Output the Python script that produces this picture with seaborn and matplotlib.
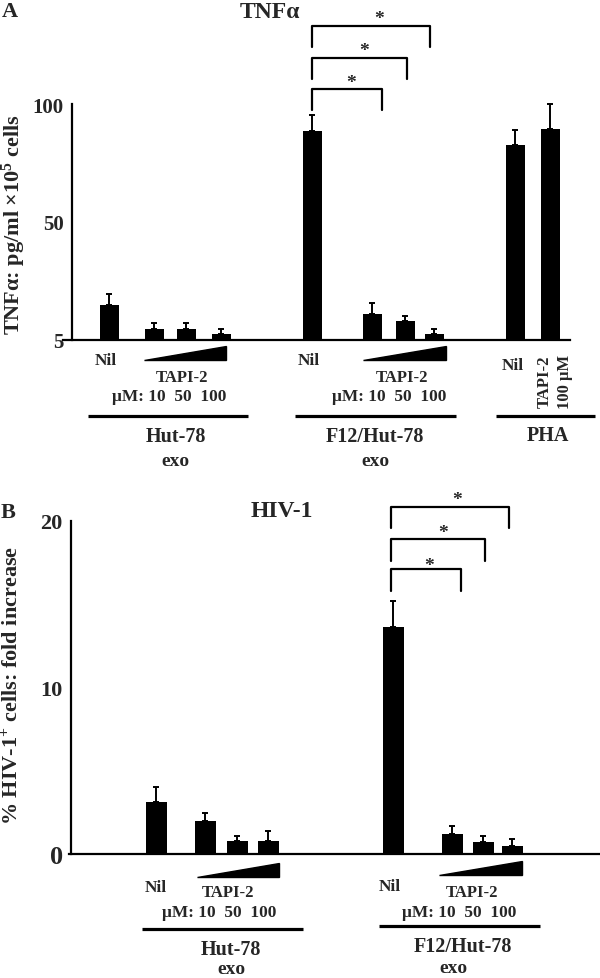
import matplotlib
matplotlib.use('Agg')
import numpy as np
import matplotlib.pyplot as plt
import seaborn as sns

sns.set_style('white')
plt.rcParams['font.family'] = ['Liberation Serif', 'DejaVu Serif']
plt.rcParams['font.weight'] = 'bold'
plt.rcParams['axes.labelweight'] = 'bold'
plt.rcParams['mathtext.fontset'] = 'custom'
plt.rcParams['mathtext.rm'] = 'Liberation Serif:bold'
plt.rcParams['mathtext.bf'] = 'Liberation Serif:bold'

# ---- data ----
# panel A: TNFa pg/ml x10^5 cells
tnf_hut = [14.8, 4.7, 4.7, 2.7]
tnf_hut_err = [4.8, 2.4, 2.4, 1.8]
tnf_f12 = [88.7, 11.0, 8.0, 2.7]
tnf_f12_err = [6.8, 4.7, 2.0, 1.8]
tnf_pha = [82.8, 89.5]
tnf_pha_err = [6.2, 10.5]

# panel B: % HIV-1+ cells, fold increase
hiv_hut = [3.1, 2.0, 0.75, 0.8]
hiv_hut_err = [0.9, 0.45, 0.3, 0.6]
hiv_f12 = [13.6, 1.2, 0.7, 0.5]
hiv_f12_err = [1.6, 0.5, 0.4, 0.4]

conc_labels = 'μM: 10  50  100'

# ---- layout (x in pixel-like units across the figure) ----
W, H = 600, 979
pos_a = [109, 154, 186, 221, 312, 372, 405, 434, 515, 550]
pos_b = [156, 205, 237, 268, 393, 452, 483, 512]

A_BOT, A_BASE, A_PPU = 470, 341, 2.36
B_TOP, B_BASE, B_PPU = 475, 855, 16.67

fig = plt.figure(figsize=(6, 9.79), dpi=100)
axA = fig.add_axes([0, 1 - A_BOT / H, 1, A_BOT / H])
axB = fig.add_axes([0, 0, 1, (H - B_TOP) / H])


def bars(ax, pos, vals, errs, px_width):
    step = np.diff(sorted(pos)).min()
    sns.barplot(x=pos, y=vals, native_scale=True, orient='x', width=px_width / step,
                color='black', saturation=1, errorbar=None, linewidth=0, ax=ax)
    ax.errorbar(pos, vals, yerr=[np.zeros(len(vals)), errs], fmt='none', ecolor='black',
                elinewidth=1.4, capsize=2.5, capthick=1.4)


def style_axis(ax, spine_x, ybounds, xbounds, labelsize):
    for s in ['top', 'right']:
        ax.spines[s].set_visible(False)
    ax.spines['left'].set_position(('data', spine_x))
    ax.spines['left'].set_bounds(*ybounds)
    ax.spines['bottom'].set_position(('data', 0))
    ax.spines['bottom'].set_bounds(*xbounds)
    for s in ['left', 'bottom']:
        ax.spines[s].set_linewidth(1.6)
        ax.spines[s].set_color('black')
    ax.set_xticks([])
    ax.tick_params(axis='y', direction='out', length=4, width=1.4,
                   labelsize=labelsize, pad=2)
    ax.set_xlabel('')


def group_labels(ax, nil_x, nil_y, wedge, wedge_y, tapi_x, tapi_y, um_x, um_y,
                 line, line_y, name_x, name, name_y, exo_x, exo_y):
    ax.text(nil_x, nil_y, 'Nil', ha='center', va='center', fontsize=12.5)
    ax.fill([wedge[0], wedge[1], wedge[1]], [wedge_y[0], wedge_y[0], wedge_y[1]],
            color='black', clip_on=False)
    ax.text(tapi_x, tapi_y, 'TAPI-2', ha='center', va='center', fontsize=12)
    ax.text(um_x, um_y, conc_labels, ha='center', va='center', fontsize=12.5)
    ax.plot(line, [line_y, line_y], color='black', lw=2.3, clip_on=False,
            solid_capstyle='butt')
    ax.text(name_x, name_y, name, ha='center', va='center', fontsize=14.5)
    ax.text(exo_x, exo_y, 'exo', ha='center', va='center', fontsize=14)


def bracket(ax, x0, x1, y_top, y_leg, star_x, star_y):
    ax.plot([x0, x0, x1, x1], [y_leg, y_top, y_top, y_leg], color='black', lw=1.6,
            clip_on=False)
    ax.text(star_x, star_y, '*', ha='center', va='center', fontsize=14)


# ---------------- Panel A ----------------
bars(axA, pos_a, tnf_hut + tnf_f12 + tnf_pha, tnf_hut_err + tnf_f12_err + tnf_pha_err, 19)
axA.set_xlim(0, W)
axA.set_ylim(-(A_BOT - A_BASE) / A_PPU, A_BASE / A_PPU)
style_axis(axA, 72, (0, 100), (63, 570), 15)
axA.set_yticks([0, 50, 100])
axA.set_yticklabels(['5', '50', '100'])
axA.set_ylabel('TNFα: pg/ml ×$\\mathrm{10^{5}}$ cells', fontsize=16, va='center',
               fontweight='bold')
axA.yaxis.set_label_coords(14 / W, 1 - 224 / A_BOT)

axA.text(10, 139.4, 'A', ha='center', va='center', fontsize=16)
axA.text(270, 139.4, 'TNFα', ha='center', va='center', fontsize=17)

group_labels(axA, 106, -8.5, (144, 226), (-8.5, -2.4), 182.5, -15.7, 169, -23.7,
             (88, 248), -32.4, 176, 'Hut-78', -40.6, 175, -51.1)
group_labels(axA, 308.5, -8.5, (363, 446), (-8.5, -2.4), 402, -15.7, 389, -23.7,
             (295, 456), -32.4, 375, 'F12/Hut-78', -40.6, 375, -51.1)
# PHA group
axA.text(512.5, -10.6, 'Nil', ha='center', va='center', fontsize=12.5)
axA.text(545, -17.2, 'TAPI-2', ha='center', va='center', rotation=90, fontsize=12)
axA.text(565, -17.2, '100 μM', ha='center', va='center', rotation=90, fontsize=12)
axA.plot((496, 595), (-32.4, -32.4), color='black', lw=2.3, clip_on=False,
         solid_capstyle='butt')
axA.text(547.5, -40.3, 'PHA', ha='center', va='center', fontsize=14.5)

bracket(axA, 312, 382, 106.4, 97.3, 350.7, 108.9)
bracket(axA, 312, 406.7, 119.4, 110.5, 364, 122.6)
bracket(axA, 312, 430.3, 132.9, 124.0, 378.7, 136.3)

# ---------------- Panel B ----------------
bars(axB, pos_b, hiv_hut + hiv_f12, hiv_hut_err + hiv_f12_err, 21)
axB.set_xlim(0, W)
axB.set_ylim(-(H - B_BASE) / B_PPU, (B_BASE - B_TOP) / B_PPU)
style_axis(axB, 71, (0, 20), (69, 600), 16)
axB.set_yticks(np.arange(0, 21, 2))
axB.set_yticklabels(['0', '', '', '', '', '10', '', '', '', '', '20'])
axB.get_yticklabels()[0].set_fontsize(19)
axB.set_ylabel('% HIV-1$\\mathrm{^{+}}$ cells: fold increase', fontsize=16, va='center',
               fontweight='bold')
axB.yaxis.set_label_coords(11 / W, (H - 685) / (H - B_TOP))

axB.text(8, 20.5, 'B', ha='center', va='center', fontsize=16)
axB.text(282, 20.6, 'HIV-1', ha='center', va='center', fontsize=17)

group_labels(axB, 156, -2.0, (197, 279), (-1.4, -0.55), 228, -2.28, 219.5, -3.5,
             (142, 303), -4.5, 231, 'Hut-78', -5.7, 231, -6.85)
group_labels(axB, 390, -1.9, (439, 522), (-1.26, -0.4), 472, -2.26, 459, -3.46,
             (379, 540), -4.34, 463, 'F12/Hut-78', -5.5, 453, -6.8)

bracket(axB, 390.7, 461, 17.1, 15.8, 429.3, 17.3)
bracket(axB, 390.7, 485, 18.9, 17.6, 442.7, 19.3)
bracket(axB, 390.7, 509.3, 20.8, 19.56, 457.3, 21.25)

fig.savefig('out.png', dpi=100)
